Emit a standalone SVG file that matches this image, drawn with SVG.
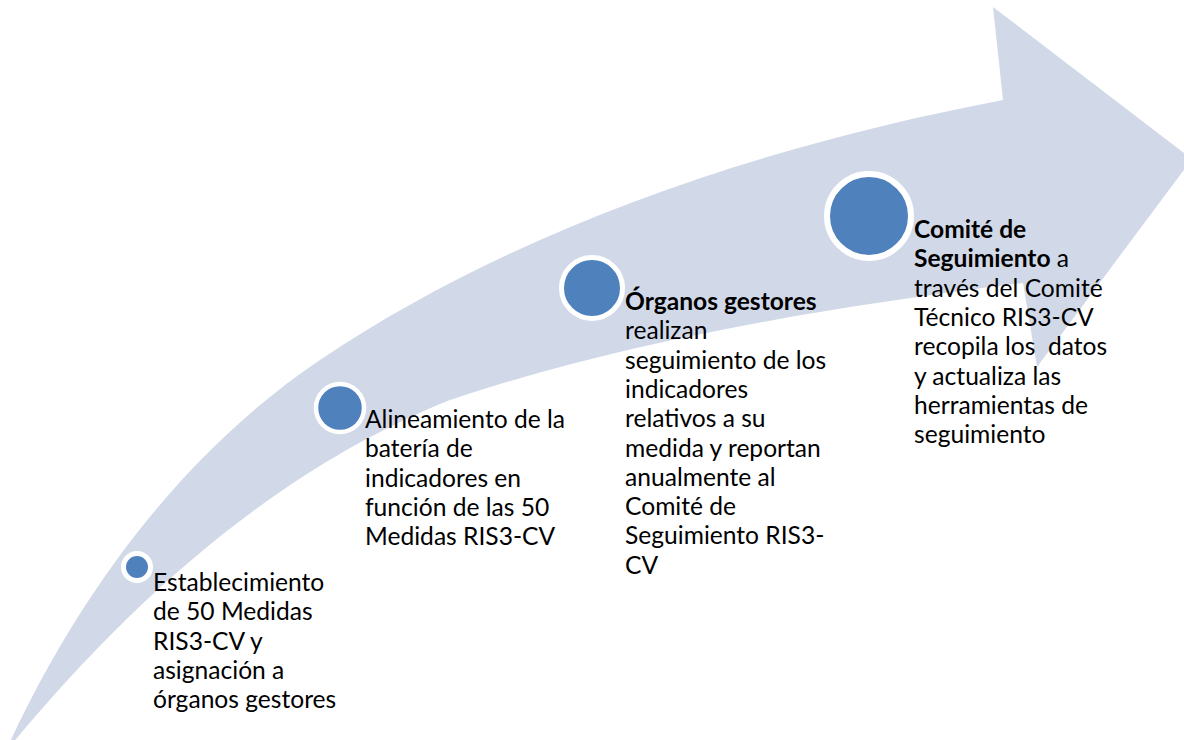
<svg xmlns="http://www.w3.org/2000/svg" width="1184" height="740" viewBox="0 0 1184 740">
<style>
.arrow{fill:#D1D9E8;}
.dot{fill:#4F81BD;stroke:#FFFFFF;}
.t{font-family:Lato,"Liberation Sans",sans-serif;font-size:24.6px;fill:#000000;white-space:pre;}
.b{font-weight:bold;}
</style>
<rect width="1184" height="740" fill="#FFFFFF"/>
<g id="arrow">
<path class="arrow" d="M 9,744 C 79,593 183,452 320,360 C 519,226 767,145 1003,100 L 993,7 L 1192,159 L 1037,367 L 1023,283 C 830,307 629,340 450,400 C 275,470 131,601 12,744 Z"/>
</g>
<g id="connectors"></g>
<g id="step1">
<circle class="dot" cx="137" cy="567" r="13.5" stroke-width="5"/>
<text class="t" x="153"><tspan x="153" y="591">Establecimiento</tspan><tspan x="153" y="620.3">de 50 Medidas</tspan><tspan x="153" y="649.6">RIS3-CV y</tspan><tspan x="153" y="678.9">asignación a</tspan><tspan x="153" y="708.2">órganos gestores</tspan></text>
</g>
<g id="step2">
<circle class="dot" cx="340" cy="408" r="24" stroke-width="4.5"/>
<text class="t"><tspan x="365" y="428">Alineamiento de la</tspan><tspan x="365" y="457.3">batería de</tspan><tspan x="365" y="486.6">indicadores en</tspan><tspan x="365" y="515.9">función de las 50</tspan><tspan x="365" y="545.2">Medidas RIS3-CV</tspan></text>
</g>
<g id="step3">
<circle class="dot" cx="592" cy="288" r="30.5" stroke-width="5"/>
<text class="t"><tspan x="625" y="310" class="b">Órganos gestores</tspan><tspan x="625" y="339.3">realizan</tspan><tspan x="625" y="368.6">seguimiento de los</tspan><tspan x="625" y="397.9">indicadores</tspan><tspan x="625" y="427.2">relativos a su</tspan><tspan x="625" y="456.5">medida y reportan</tspan><tspan x="625" y="485.8">anualmente al</tspan><tspan x="625" y="515.1">Comité de</tspan><tspan x="625" y="544.4">Seguimiento RIS3-</tspan><tspan x="625" y="573.7">CV</tspan></text>
</g>
<g id="step4">
<circle class="dot" cx="869" cy="216" r="42" stroke-width="6"/>
<text class="t"><tspan x="914" y="238" class="b">Comité de</tspan><tspan x="914" y="267.3" class="b">Seguimiento</tspan><tspan> a</tspan><tspan x="914" y="296.6">través del Comité</tspan><tspan x="914" y="325.9">Técnico RIS3-CV</tspan><tspan x="914" y="355.2">recopila los  datos</tspan><tspan x="914" y="384.5">y actualiza las</tspan><tspan x="914" y="413.8">herramientas de</tspan><tspan x="914" y="443.1">seguimiento</tspan></text>
</g>
</svg>
